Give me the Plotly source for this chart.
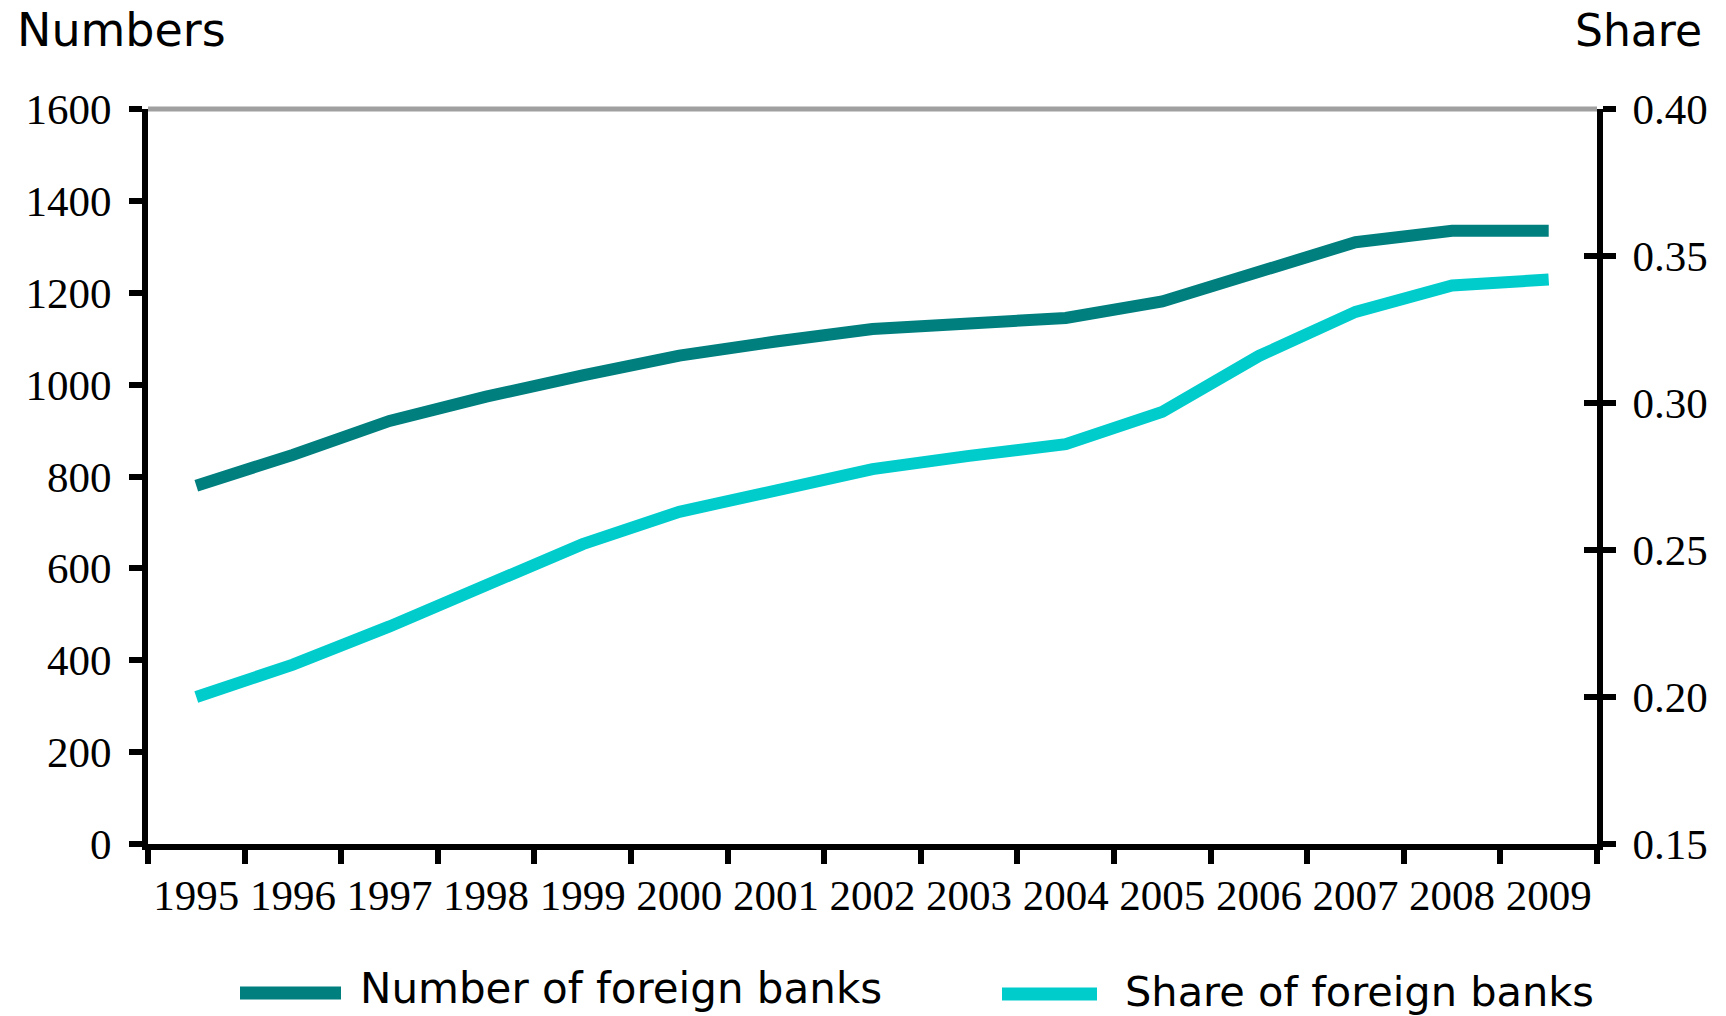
import plotly.graph_objects as go

years = ["1995", "1996", "1997", "1998", "1999", "2000", "2001", "2002",
         "2003", "2004", "2005", "2006", "2007", "2008", "2009"]
num_foreign_banks = [780, 847, 921, 974, 1020, 1063, 1094, 1121,
                     1133, 1145, 1181, 1248, 1310, 1335, 1335]
share_foreign_banks = [0.200, 0.211, 0.224, 0.238, 0.252, 0.263, 0.270, 0.2775,
                       0.282, 0.286, 0.297, 0.316, 0.331, 0.340, 0.342]

left_ticks = [0, 200, 400, 600, 800, 1000, 1200, 1400, 1600]
right_ticks = [0.15, 0.20, 0.25, 0.30, 0.35, 0.40]

series_names = ["Number of foreign banks", "Share of foreign banks"]
colors = ["#007F7F", "#00CCCC"]

W, H = 1726, 1016
L, T = 148, 109
R = W - 1597
B = H - 844
PW, PH = W - L - R, H - T - B


def px_x(X):
    return (X - L) / PW


def px_y(Y):
    return (H - B - Y) / PH


fig = go.Figure()
fig.add_trace(go.Scatter(x=years, y=num_foreign_banks, name=series_names[0],
                         mode="lines", line=dict(color=colors[0], width=12),
                         yaxis="y", showlegend=False))
fig.add_trace(go.Scatter(x=years, y=share_foreign_banks, name=series_names[1],
                         mode="lines", line=dict(color=colors[1], width=12),
                         yaxis="y2", showlegend=False))
# invisible trace to activate the overlay axis for crossing ticks
fig.add_trace(go.Scatter(x=years, y=share_foreign_banks, yaxis="y3",
                         mode="lines", line=dict(width=0), hoverinfo="skip",
                         showlegend=False, opacity=0))

xtick_font = dict(family="Liberation Serif", size=43, color="black")
ytick_font = dict(family="Liberation Serif", size=43, color="black")

fig.update_layout(
    width=W, height=H, autosize=False,
    margin=dict(l=L, r=R, t=T, b=B),
    paper_bgcolor="white", plot_bgcolor="white",
    showlegend=False,
    xaxis=dict(type="category", range=[-0.5, len(years) - 0.5],
               tickson="boundaries", ticks="outside", ticklen=14, tickwidth=6,
               tickcolor="black", showline=True, linewidth=6, linecolor="black",
               showgrid=False, zeroline=False, tickfont=xtick_font,
               tickangle=0, ticklabelstandoff=8),
    yaxis=dict(range=[0, 1600], tickvals=left_ticks, ticks="outside",
               ticklen=13, tickwidth=6, tickcolor="black", showline=True,
               linewidth=6, linecolor="black", showgrid=False, zeroline=False,
               tickfont=ytick_font, ticklabelstandoff=9),
    yaxis2=dict(range=[0.15, 0.40], tickvals=right_ticks, tickformat=".2f",
                overlaying="y", side="right", anchor="x", ticks="outside",
                ticklen=13, tickwidth=6, tickcolor="black", showline=True,
                linewidth=6, linecolor="black", showgrid=False, zeroline=False,
                tickfont=ytick_font, ticklabelstandoff=8),
    yaxis3=dict(range=[0.15, 0.40], tickvals=right_ticks, overlaying="y",
                side="right", anchor="x", ticks="inside", ticklen=13,
                tickwidth=6, tickcolor="black", showline=False,
                showgrid=False, zeroline=False, showticklabels=False),
)

# grey top border line at the top of the plot
fig.add_shape(type="line", xref="paper", yref="paper", x0=0, x1=1, y0=1, y1=1,
              line=dict(color="#A0A0A0", width=5), layer="below")

fig.add_annotation(text="Numbers", xref="paper", yref="paper",
                   x=px_x(15), y=px_y(30.5), xanchor="left", yanchor="middle",
                   showarrow=False,
                   font=dict(family="DejaVu Sans", size=46, color="black"))
fig.add_annotation(text="Share", xref="paper", yref="paper",
                   x=px_x(1704), y=px_y(30.5), xanchor="right", yanchor="middle",
                   showarrow=False,
                   font=dict(family="DejaVu Sans", size=44, color="black"))

# legend (drawn manually to match the long symbol lines)
legend_items = [
    (series_names[0], colors[0], 240, 341, 993, 358, 988.5, 42),
    (series_names[1], colors[1], 1002, 1097, 994, 1123, 991.5, 41.5),
]
for name, col, x0, x1, ly, tx, ty, fs in legend_items:
    fig.add_shape(type="line", xref="paper", yref="paper",
                  x0=px_x(x0), x1=px_x(x1), y0=px_y(ly), y1=px_y(ly),
                  line=dict(color=col, width=13))
    fig.add_annotation(text=name, xref="paper", yref="paper",
                       x=px_x(tx), y=px_y(ty), xanchor="left", yanchor="middle",
                       showarrow=False,
                       font=dict(family="DejaVu Sans", size=fs, color="black"))

# remove the default page margin so the figure fills the window exactly
fig.write_html("out.html",
               config={"displayModeBar": False},
               post_script="document.body.style.margin='0px';"
                           "document.body.style.overflow='hidden';")
